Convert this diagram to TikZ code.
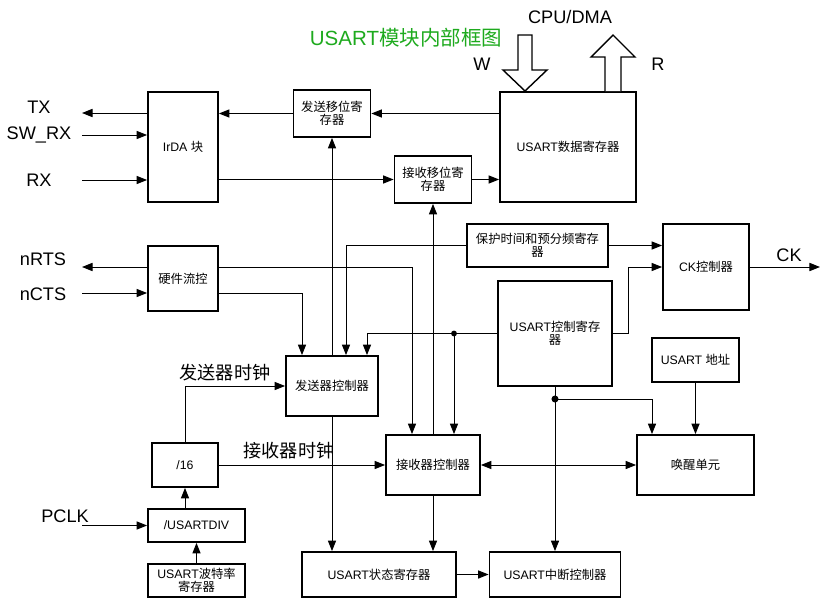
\documentclass[tikz,border=0pt]{standalone}
\usepackage{fontspec}
\setmainfont{Liberation Sans}
\newfontfamily\cjk{Noto Sans CJK SC}
\newcommand{\zh}[1]{{\cjk #1}}
\usetikzlibrary{arrows.meta,calc}
\definecolor{titlegreen}{RGB}{30,170,30}
\begin{document}
\begin{tikzpicture}[x=0.03cm, y=-0.03cm,
  blk/.style 2 args={draw, line width=1.6pt, minimum width=#1*0.03cm, minimum height=#2*0.03cm, inner sep=0.5pt, align=center, font=\fontsize{10.5}{11.5}\selectfont},
  sig/.style={font=\fontsize{15.5}{18}\selectfont},
  clk/.style={font=\cjk\fontsize{15.5}{18}\selectfont},
  arr/.style={line width=0.85pt, -{Triangle[length=9pt,width=7pt]}},
  darr/.style={line width=0.85pt, {Triangle[length=9pt,width=7pt]}-{Triangle[length=9pt,width=7pt]}},
  hollow/.style={line width=1.2pt, fill=white}]
\useasboundingbox (0,0) rectangle (837,614);
\node[blk={70}{110}] (irda) at (183,147) {IrDA \zh{块}};
\node[blk={77}{47}] (txshift) at (332,113.5) {\zh{发送移位寄}\\\zh{存器}};
\node[blk={136}{110}] (datareg) at (568,147) {USART\zh{数据寄存器}};
\node[blk={77}{47}] (rxshift) at (433,179.5) {\zh{接收移位寄}\\\zh{存器}};
\node[blk={70}{65}] (flow) at (183,278.5) {\zh{硬件流控}};
\node[blk={141}{43}] (guard) at (537.5,245.5) {\zh{保护时间和预分频寄存}\\\zh{器}};
\node[blk={86}{86}] (ckctl) at (706,267) {CK\zh{控制器}};
\node[blk={114}{105}] (ctlreg) at (555,333.5) {USART\zh{控制寄存}\\\zh{器}};
\node[blk={87}{44}] (addr) at (695.5,360) {USART \zh{地址}};
\node[blk={92}{60}] (txctl) at (332,386) {\zh{发送器控制器}};
\node[blk={66}{44}] (div16) at (185,465) {/16};
\node[blk={94}{60}] (rxctl) at (433,465) {\zh{接收器控制器}};
\node[blk={117}{60}] (wake) at (695.5,465) {\zh{唤醒单元}};
\node[blk={97}{33}] (usartdiv) at (196.5,525.5) {/USARTDIV};
\node[blk={97}{33}] (baud) at (196.5,580.5) {USART\zh{波特率}\\\zh{寄存器}};
\node[blk={154}{45}] (status) at (379,574.5) {USART\zh{状态寄存器}};
\node[blk={131}{45}] (irq) at (555,574.5) {USART\zh{中断控制器}};
\node[font=\fontsize{17.5}{20}\selectfont, text=titlegreen] (title) at (406,38) {USART\zh{模块内部框图}};
\node[sig] (cpu) at (570,17) {CPU/DMA};
\node[sig] (w) at (482,64) {W};
\node[sig] (r) at (658,64) {R};
\node[sig] (tx) at (39,107) {TX};
\node[sig] (swrx) at (39,135) {SW\_RX};
\node[sig] (rx) at (39,180) {RX};
\node[sig] (nrts) at (43,259) {nRTS};
\node[sig] (ncts) at (43,294) {nCTS};
\node[sig] (pclk) at (65,516) {PCLK};
\node[sig] (ck) at (789,255) {CK};
\node[clk] (txclk) at (225,373) {发送器时钟};
\node[clk] (rxclk) at (289,451) {接收器时钟};
\coordinate (txend) at (82,113);
\coordinate (swrxend) at (82,135);
\coordinate (rxend) at (82,180);
\coordinate (nrtsend) at (82,267);
\coordinate (nctsend) at (82,293);
\coordinate (pclkend) at (82,525.5);
\coordinate (ckend) at (820,267);
\coordinate (j1) at (454,333.5);
\coordinate (j2) at (555,399);
\draw[hollow] (518,35) -- (518,70) -- (503,70) -- (525,91) -- (547,70) -- (532,70) -- (532,35) -- cycle;
\draw[hollow] (605,91) -- (605,57) -- (591,57) -- (613,35) -- (635,57) -- (621,57) -- (621,91);
\draw[arr] (datareg.west |- txshift) -- (txshift.east);
\draw[arr] (txshift.west) -- (irda.east |- txshift);
\draw[arr] (irda.west |- txend) -- (txend);
\draw[arr] (swrxend) -- (irda.west |- swrxend);
\draw[arr] (rxend) -- (irda.west |- rxend);
\draw[arr] (irda.east |- rxshift) -- (rxshift.west);
\draw[arr] (rxshift.east) -- (datareg.west |- rxshift);
\draw[arr] (txctl.north) -- (txshift.south);
\draw[arr] (rxctl.north) -- (rxshift.south);
\draw[arr] (txctl.south) -- (txctl.south |- status.north);
\draw[arr] (rxctl.south) -- (rxctl.south |- status.north);
\draw[arr] (flow.west |- nrtsend) -- (nrtsend);
\draw[arr] (nctsend) -- (flow.west |- nctsend);
\draw[arr] (flow.east |- nrtsend) -| ($(rxctl.north)+(-21,0)$);
\draw[arr] (flow.east |- nctsend) -| ($(txctl.north)+(-30,0)$);
\draw[arr] (guard.west) -| ($(txctl.north)+(14,0)$);
\draw[arr] (guard.east) -- (ckctl.west |- guard.east);
\draw[arr] (ctlreg.east) -- ++(16,0) |- (ckctl.west);
\draw[arr] (ctlreg.west) -| ($(txctl.north)+(35,0)$);
\draw[arr] (j1) -- (j1 |- rxctl.north);
\fill (j1) circle[radius=2.5pt];
\draw[arr] (ctlreg.south) -- (irq.north);
\draw[arr] (j2) -| ($(wake.north)+(-43.5,0)$);
\fill (j2) circle[radius=3pt];
\draw[arr] (addr.south) -- (wake.north);
\draw[darr] (rxctl.east) -- (wake.west);
\draw[arr] (div16.north) |- (txctl.west);
\draw[arr] (div16.east) -- (rxctl.west);
\draw[arr] (usartdiv.north -| div16.south) -- (div16.south);
\draw[arr] (baud.north) -- (usartdiv.south);
\draw[arr] (pclkend) -- (usartdiv.west);
\draw[arr] (status.east) -- (irq.west);
\draw[arr] (ckctl.east) -- (ckend);
\end{tikzpicture}
\end{document}
